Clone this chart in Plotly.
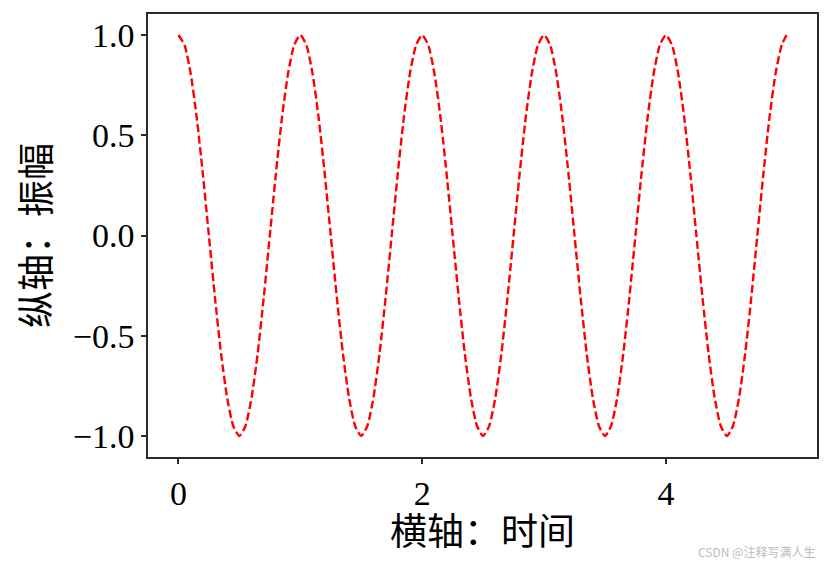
import plotly.graph_objects as go

# time samples (s) and amplitude
t = [0.00, 0.05, 0.10, 0.15, 0.20, 0.25, 0.30, 0.35, 0.40, 0.45,
     0.50, 0.55, 0.60, 0.65, 0.70, 0.75, 0.80, 0.85, 0.90, 0.95,
     1.00, 1.05, 1.10, 1.15, 1.20, 1.25, 1.30, 1.35, 1.40, 1.45,
     1.50, 1.55, 1.60, 1.65, 1.70, 1.75, 1.80, 1.85, 1.90, 1.95,
     2.00, 2.05, 2.10, 2.15, 2.20, 2.25, 2.30, 2.35, 2.40, 2.45,
     2.50, 2.55, 2.60, 2.65, 2.70, 2.75, 2.80, 2.85, 2.90, 2.95,
     3.00, 3.05, 3.10, 3.15, 3.20, 3.25, 3.30, 3.35, 3.40, 3.45,
     3.50, 3.55, 3.60, 3.65, 3.70, 3.75, 3.80, 3.85, 3.90, 3.95,
     4.00, 4.05, 4.10, 4.15, 4.20, 4.25, 4.30, 4.35, 4.40, 4.45,
     4.50, 4.55, 4.60, 4.65, 4.70, 4.75, 4.80, 4.85, 4.90, 4.95, 4.99]
amp = [1.00, 0.95, 0.81, 0.59, 0.31, 0.00, -0.31, -0.59, -0.81, -0.95,
       -1.00, -0.95, -0.81, -0.59, -0.31, 0.00, 0.31, 0.59, 0.81, 0.95,
       1.00, 0.95, 0.81, 0.59, 0.31, 0.00, -0.31, -0.59, -0.81, -0.95,
       -1.00, -0.95, -0.81, -0.59, -0.31, 0.00, 0.31, 0.59, 0.81, 0.95,
       1.00, 0.95, 0.81, 0.59, 0.31, 0.00, -0.31, -0.59, -0.81, -0.95,
       -1.00, -0.95, -0.81, -0.59, -0.31, 0.00, 0.31, 0.59, 0.81, 0.95,
       1.00, 0.95, 0.81, 0.59, 0.31, 0.00, -0.31, -0.59, -0.81, -0.95,
       -1.00, -0.95, -0.81, -0.59, -0.31, 0.00, 0.31, 0.59, 0.81, 0.95,
       1.00, 0.95, 0.81, 0.59, 0.31, 0.00, -0.31, -0.59, -0.81, -0.95,
       -1.00, -0.95, -0.81, -0.59, -0.31, 0.00, 0.31, 0.59, 0.81, 0.95, 1.00]

font = "Liberation Serif, Noto Sans CJK SC, serif"
axcol = "#2b2b2b"

fig = go.Figure()
fig.add_trace(go.Scatter(
    x=t, y=amp, mode="lines",
    line=dict(color="red", width=2.4, dash="8px,3.5px", shape="spline", smoothing=0.6),
    showlegend=False,
))

axis = dict(
    showline=True, mirror=True, linecolor=axcol, linewidth=1.5,
    ticks="outside", ticklen=5, tickwidth=1.5, tickcolor=axcol,
    showgrid=False, zeroline=False, automargin=False,
    tickfont=dict(family=font, size=34, color="black"),
)

# the page body adds an 8px offset, so the figure is sized to fit inside it
fig.update_layout(
    width=823, height=560,
    margin=dict(l=140, r=14, t=6, b=111),
    paper_bgcolor="white", plot_bgcolor="white",
    xaxis=dict(axis, range=[-0.2495, 5.2395], tickvals=[0, 2, 4],
               title=dict(text="横轴：时间", font=dict(family=font, size=37, color="black"), standoff=7)),
    yaxis=dict(axis, range=[-1.105, 1.105], tickvals=[-1.0, -0.5, 0.0, 0.5, 1.0],
               tickformat=".1f",
               title=dict(text="纵轴：振幅", font=dict(family=font, size=37, color="black"), standoff=11)),
    annotations=[dict(text="CSDN @注释写满人生", xref="paper", yref="paper",
                      x=1.0, y=-0.214, xanchor="right", yanchor="middle", showarrow=False,
                      font=dict(family="Noto Sans CJK SC", size=12, color="#bbbbbb"))],
)

fig.write_html("out.html")
